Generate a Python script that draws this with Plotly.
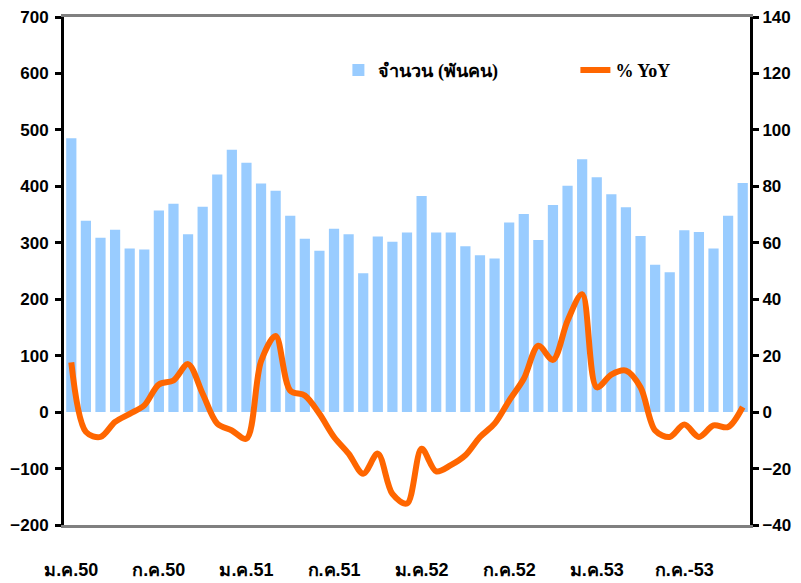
import plotly.graph_objects as go

# Monthly data: ม.ค.50 (Jan 2007) .. พ.ย.53 (Nov 2010)
counts = [485, 339, 309, 323, 290, 288, 357, 369, 315, 364, 421, 465,
          442, 405, 392, 348, 307, 286, 325, 315, 246, 311, 302, 318,
          383, 318, 318, 294, 278, 272, 336, 351, 305, 367, 401, 448,
          416, 386, 363, 312, 261, 248, 322, 319, 290, 348, 406]
yoy = [17.6, -7.0, -8.8, -3.5, -0.6, 2.4, 9.8, 11.2, 17.0, 6.5, -4.1, -6.5,
       -9.4, 18.0, 27.0, 7.6, 5.9, -0.6, -8.8, -14.7, -21.8, -14.7, -29.0, -32.4,
       -13.0, -21.0, -18.8, -15.3, -8.8, -4.1, 4.1, 11.8, 23.5, 18.5, 32.4, 41.8,
       8.8, 13.3, 14.7, 8.8, -6.5, -8.8, -4.4, -8.8, -4.7, -5.3, 1.8]
months = list(range(len(counts)))
tick_positions = [0, 6, 12, 18, 24, 30, 36, 42]
tick_labels = ["ม.ค.50", "ก.ค.50", "ม.ค.51", "ก.ค.51", "ม.ค.52", "ก.ค.52", "ม.ค.53", "ก.ค.-53"]
minor_ticks = [2.5 + 3 * k for k in range(15)]

bar_name = "จำนวน (พันคน)"
line_name = "% YoY"

fig = go.Figure()
fig.add_trace(go.Bar(x=months, y=counts, name=bar_name,
                     marker=dict(color="#99CCFF", line=dict(width=0)),
                     yaxis="y", xaxis="x"))
fig.add_trace(go.Scatter(x=months, y=yoy, name=line_name, mode="lines",
                         line=dict(color="#FF6600", width=6, shape="spline", smoothing=0.9),
                         yaxis="y2", xaxis="x"))

xr = [-0.5, len(counts) - 0.5]
fig.update_layout(
    width=793, height=575,
    margin=dict(l=56, r=51, t=9, b=58, autoexpand=False),
    plot_bgcolor="white", paper_bgcolor="white",
    bargap=0.3,
    showlegend=True,
    legend=dict(orientation="h", x=0.40, y=0.895, xanchor="left", yanchor="middle",
                bgcolor="rgba(0,0,0,0)", entrywidth=192, entrywidthmode="pixels",
                font=dict(family="Liberation Serif", size=18, color="black", weight="bold")),
    xaxis=dict(range=xr, tickvals=tick_positions, ticktext=tick_labels,
               showgrid=False, zeroline=False, showline=True, linecolor="#808080",
               linewidth=3, mirror=True, ticks="", ticklabelstandoff=26, automargin=False,
               tickfont=dict(family="Liberation Sans", size=18, color="black", weight="bold")),
    xaxis2=dict(range=xr, overlaying="x", anchor="free", position=200 / 900,
                tickvals=minor_ticks, showticklabels=False, ticks="outside",
                ticklen=6, tickwidth=3, tickcolor="black", automargin=False,
                showgrid=False, zeroline=False, showline=True, linecolor="black",
                linewidth=3, layer="below traces"),
    yaxis=dict(range=[-200, 700], dtick=100, showgrid=False, zeroline=False,
               showline=True, linecolor="black", linewidth=3, automargin=False,
               ticks="outside", ticklen=6, tickwidth=3, tickcolor="black",
               ticklabelstandoff=3, ticklabeloverflow="allow",
               tickfont=dict(family="Liberation Sans", size=17, color="black", weight="bold")),
    yaxis2=dict(range=[-40, 140], dtick=20, overlaying="y", side="right",
                showgrid=False, zeroline=False, showline=True, linecolor="black",
                linewidth=3, ticks="outside", ticklen=6, tickwidth=3, tickcolor="black",
                automargin=False, ticklabeloverflow="allow",
                tickfont=dict(family="Liberation Sans", size=17, color="black", weight="bold")),
)

fig.write_html("out.html")
